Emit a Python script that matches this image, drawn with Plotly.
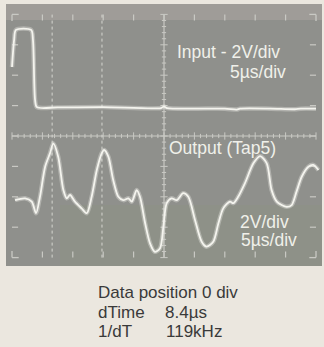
import plotly.graph_objects as go

# Screen coordinates in divisions (10 x 8 graticule, centre = (5, 0))
input_x = [0.0, 0.07, 0.13, 0.63, 0.69, 0.76, 0.82, 1.5, 3.0, 4.9, 5.0, 5.1, 6.0, 7.0, 7.4, 7.5, 8.5, 9.3, 9.5, 10.0]
input_y = [2.27, 3.16, 3.49, 3.49, 3.16, 1.18, 0.95, 0.94, 0.95, 0.92, 0.97, 0.92, 0.90, 0.90, 0.87, 0.90, 0.90, 0.88, 0.90, 0.90]

output_x = [0.10, 0.43, 0.65, 0.79, 0.92, 1.09, 1.25, 1.36, 1.52, 1.69, 1.80, 1.91, 2.07, 2.29, 2.46,
            2.62, 2.79, 2.95, 3.03, 3.17, 3.33, 3.50, 3.66, 3.83, 3.94, 4.10, 4.21, 4.38, 4.54, 4.70,
            4.87, 4.98, 5.09, 5.25, 5.42, 5.63, 5.80, 6.02, 6.24, 6.40, 6.62, 6.79, 6.95, 7.17, 7.28,
            7.44, 7.66, 7.94, 8.16, 8.38, 8.54, 8.71, 8.87, 9.04, 9.20, 9.36, 9.53, 9.75, 9.91, 10.08]
output_y = [-2.11, -2.05, -2.16, -2.54, -2.00, -1.01, -0.57, -0.24, -0.68, -1.78, -2.05, -1.94, -2.16, -2.38, -2.54,
            -2.00, -1.12, -0.57, -0.46, -0.68, -1.45, -2.00, -2.11, -2.05, -2.16, -1.78, -2.00, -2.87, -3.53, -3.81,
            -3.69, -2.98, -2.21, -2.05, -2.11, -1.88, -2.00, -2.76, -3.48, -3.64, -3.48, -2.87, -2.38, -2.16, -2.21,
            -2.00, -1.56, -0.90, -0.66, -0.90, -1.78, -2.16, -2.27, -2.33, -2.27, -1.83, -1.34, -1.01, -0.95, -1.12]

cursor_x = [1.32, 2.96]

screen_labels = ["Input - 2V/div", "5\u00b5s/div", "Output (Tap5)", "2V/div", "5\u00b5s/div"]
readout_labels = ["Data position 0 div", "dTime", "8.4\u00b5s", "1/dT", "119kHz"]

PX = 30.4  # pixels per division
def dx(px):
    return (px - 12) / PX
def dy(py):
    return (136 - py) / PX

fig = go.Figure()

trace_col = "#f4f4ee"
for xs, ys in [(input_x, input_y), (output_x, output_y)]:
    fig.add_trace(go.Scatter(x=xs, y=ys, mode="lines",
                             line=dict(color="rgba(240,240,235,0.35)", width=4.5, shape="spline", smoothing=0.8),
                             hoverinfo="skip", showlegend=False))
    fig.add_trace(go.Scatter(x=xs, y=ys, mode="lines",
                             line=dict(color=trace_col, width=1.8, shape="spline", smoothing=0.8),
                             hoverinfo="skip", showlegend=False))

shapes = []
# screen
shapes.append(dict(type="rect", xref="x", yref="y", x0=dx(6), x1=dx(322), y0=dy(4), y1=dy(266),
                   fillcolor="#8f908c", line=dict(width=0), layer="below"))
shapes.append(dict(type="rect", xref="x", yref="y", x0=dx(6), x1=dx(322), y0=dy(4), y1=dy(20),
                   fillcolor="rgba(190,180,175,0.35)", line=dict(width=0), layer="below"))
shapes.append(dict(type="rect", xref="x", yref="y", x0=dx(60), x1=dx(322), y0=dy(205), y1=dy(266),
                   fillcolor="rgba(140,150,120,0.18)", line=dict(width=0), layer="below"))

gcol = "#c9c9c4"
# centre crosshair
shapes.append(dict(type="line", xref="x", yref="y", x0=0, x1=10, y0=0, y1=0, line=dict(color=gcol, width=1.2), layer="below"))
shapes.append(dict(type="line", xref="x", yref="y", x0=5, x1=5, y0=-4, y1=4, line=dict(color=gcol, width=1.2), layer="below"))
for i in range(51):
    t = i * 0.2
    h = 0.12 if i % 5 == 0 else 0.07
    shapes.append(dict(type="line", xref="x", yref="y", x0=t, x1=t, y0=-h, y1=h, line=dict(color=gcol, width=1), layer="below"))
for i in range(41):
    t = -4 + i * 0.2
    h = 0.12 if i % 5 == 0 else 0.07
    shapes.append(dict(type="line", xref="x", yref="y", x0=5 - h, x1=5 + h, y0=t, y1=t, line=dict(color=gcol, width=1), layer="below"))
# edge ticks
for i in range(1, 10):
    shapes.append(dict(type="line", xref="x", yref="y", x0=i, x1=i, y0=4, y1=3.8, line=dict(color=gcol, width=1.2), layer="below"))
    shapes.append(dict(type="line", xref="x", yref="y", x0=i, x1=i, y0=-4, y1=-3.8, line=dict(color=gcol, width=1.2), layer="below"))
for j in range(1, 8):
    t = -4 + j
    shapes.append(dict(type="line", xref="x", yref="y", x0=0, x1=0.2, y0=t, y1=t, line=dict(color=gcol, width=1.2), layer="below"))
    shapes.append(dict(type="line", xref="x", yref="y", x0=10, x1=9.8, y0=t, y1=t, line=dict(color=gcol, width=1.2), layer="below"))
# corner marks
for cx, cy, sx, sy in [(0, 4, 1, -1), (10, 4, -1, -1), (0, -4, 1, 1), (10, -4, -1, 1)]:
    shapes.append(dict(type="line", xref="x", yref="y", x0=cx, x1=cx + sx * 0.22, y0=cy, y1=cy, line=dict(color=gcol, width=1.3), layer="below"))
    shapes.append(dict(type="line", xref="x", yref="y", x0=cx, x1=cx, y0=cy, y1=cy + sy * 0.22, line=dict(color=gcol, width=1.3), layer="below"))
# cursors
for c in cursor_x:
    shapes.append(dict(type="line", xref="x", yref="y", x0=c, x1=c, y0=-4, y1=4,
                       line=dict(color="#d6d6d0", width=1, dash="dot"), layer="below"))

fnt = "Liberation Sans, Arial, sans-serif"
tcol = "#f0f0ea"
ssz = 17.5
ann = []
def add(px, py, text, anchor, size, color):
    ann.append(dict(x=dx(px), y=dy(py), text=text, xanchor=anchor, yanchor="middle", showarrow=False,
                    borderpad=0, font=dict(family=fnt, size=size, color=color)))

add(281, 52, screen_labels[0], "right", ssz, tcol)
add(287, 72, screen_labels[1], "right", ssz, tcol)
add(277, 148, screen_labels[2], "right", ssz, tcol)
add(290, 222, screen_labels[3], "right", ssz, tcol)
add(298, 240, screen_labels[4], "right", ssz, tcol)

dcol = "#3a3a3a"
rsz = 17
add(97, 292, readout_labels[0], "left", rsz, dcol)
add(97, 312, readout_labels[1], "left", rsz, dcol)
add(164, 312, readout_labels[2], "left", rsz, dcol)
add(97, 331, readout_labels[3], "left", rsz, dcol)
add(165, 331, readout_labels[4], "left", rsz, dcol)

fig.update_layout(
    width=324, height=347,
    margin=dict(l=0, r=0, t=0, b=0),
    paper_bgcolor="#ebe7df", plot_bgcolor="#ebe7df",
    xaxis=dict(range=[dx(0), dx(324)], visible=False, fixedrange=True),
    yaxis=dict(range=[dy(347), dy(0)], visible=False, fixedrange=True),
    shapes=shapes, annotations=ann, showlegend=False,
)

fig.write_html("out.html", config={"displayModeBar": False},
               post_script="document.body.style.margin='0';document.body.style.background='#ebe7df';")
